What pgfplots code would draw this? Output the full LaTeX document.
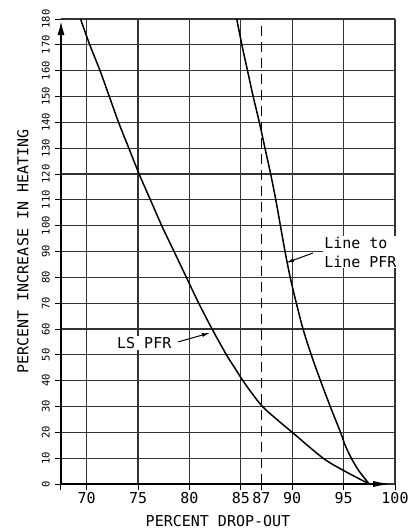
\documentclass[border=0pt]{standalone}
\usepackage{fontspec}
\setmainfont{DejaVu Sans Mono}
\usepackage{pgfplots}
\pgfplotsset{compat=1.18}
\usetikzlibrary{arrows.meta}
\pgfplotstableread{
x y
69.4 180
70.3 170
71.3 160
72.2 150
73.1 140
74.1 130
75.1 120
76.2 110
77.3 100
78.5 90
79.7 80
80.9 70
82.2 60
83.6 50
84.4 45
85.2 40
86.1 35
87.1 30
88.5 25
90.0 20
93.0 10
95.1 5
97.5 0
}\lspfr
\pgfplotstableread{
x y
84.6 180
85.1 170
85.65 160
86.2 150
86.8 140
87.35 130
87.9 120
88.4 110
88.85 100
89.3 90
89.8 80
90.4 70
91.05 60
91.85 50
92.75 40
93.7 30
94.7 20
95.15 15
95.75 10
96.5 5
97.5 0
}\llpfr
\begin{document}
\begin{tikzpicture}
\useasboundingbox (-61pt,-47pt) rectangle (347pt,484pt);
\begin{axis}[
  scale only axis, width=334pt, height=465pt,
  xmin=67.5, xmax=100, ymin=0, ymax=180,
  axis lines=left,
  x axis line style={line width=2.5pt, -{Latex[length=22pt,width=6pt]}},
  y axis line style={line width=2.5pt, -{Latex[length=16pt,width=7pt]}},
  xtick={70,75,80,85,90,95,100},
  extra x ticks={67.5,87}, extra x tick labels={,87},
  extra x tick style={grid=none},
  ytick={0,10,...,180},
  grid=major,
  major grid style={line width=1.2pt, color=black!80},
  tick align=outside, major tick length=6pt,
  tick style={black, line width=1pt},
  /pgf/number format/assume math mode=true,
  xticklabel style={font=\fontsize{15}{17}\selectfont, inner sep=2pt},
  yticklabel style={font=\fontsize{10.5}{12}\selectfont, rotate=90, anchor=south, inner sep=2pt},
  yticklabel shift=3pt,
  xlabel={PERCENT DROP-OUT},
  ylabel={PERCENT INCREASE IN HEATING},
  every axis x label/.style={at={(axis description cs:0.47,-0.0796)}, anchor=center, font=\fontsize{15}{17}\selectfont},
  every axis y label/.style={at={(axis description cs:-0.1138,0.5)}, anchor=center, rotate=90, font=\fontsize{15}{17}\selectfont},
  clip=false,
]
\addplot[black, line width=1.5pt, smooth] table {\lspfr};
\addplot[black, line width=1.5pt, smooth] table {\llpfr};
\addplot[black, line width=1.8pt, dash pattern=on 10pt off 6pt] coordinates {(87,0) (87,180)};
\node[fill=white, inner sep=1pt, font=\fontsize{15}{17}\selectfont] at (axis cs:75.6,54.6) {LS PFR};
\draw[line width=1pt, -{Latex[length=8pt,width=4pt]}] (axis cs:78.9,55) -- (axis cs:82.0,58.5);
\node[fill=white, inner sep=1pt, anchor=west, align=left, font=\fontsize{15}{19}\selectfont] at (axis cs:93,89.8) {Line to\\Line PFR};
\draw[line width=1pt, -{Latex[length=8pt,width=4pt]}] (axis cs:92.0,89.4) -- (axis cs:89.4,85.6);
\end{axis}
\end{tikzpicture}
\end{document}
